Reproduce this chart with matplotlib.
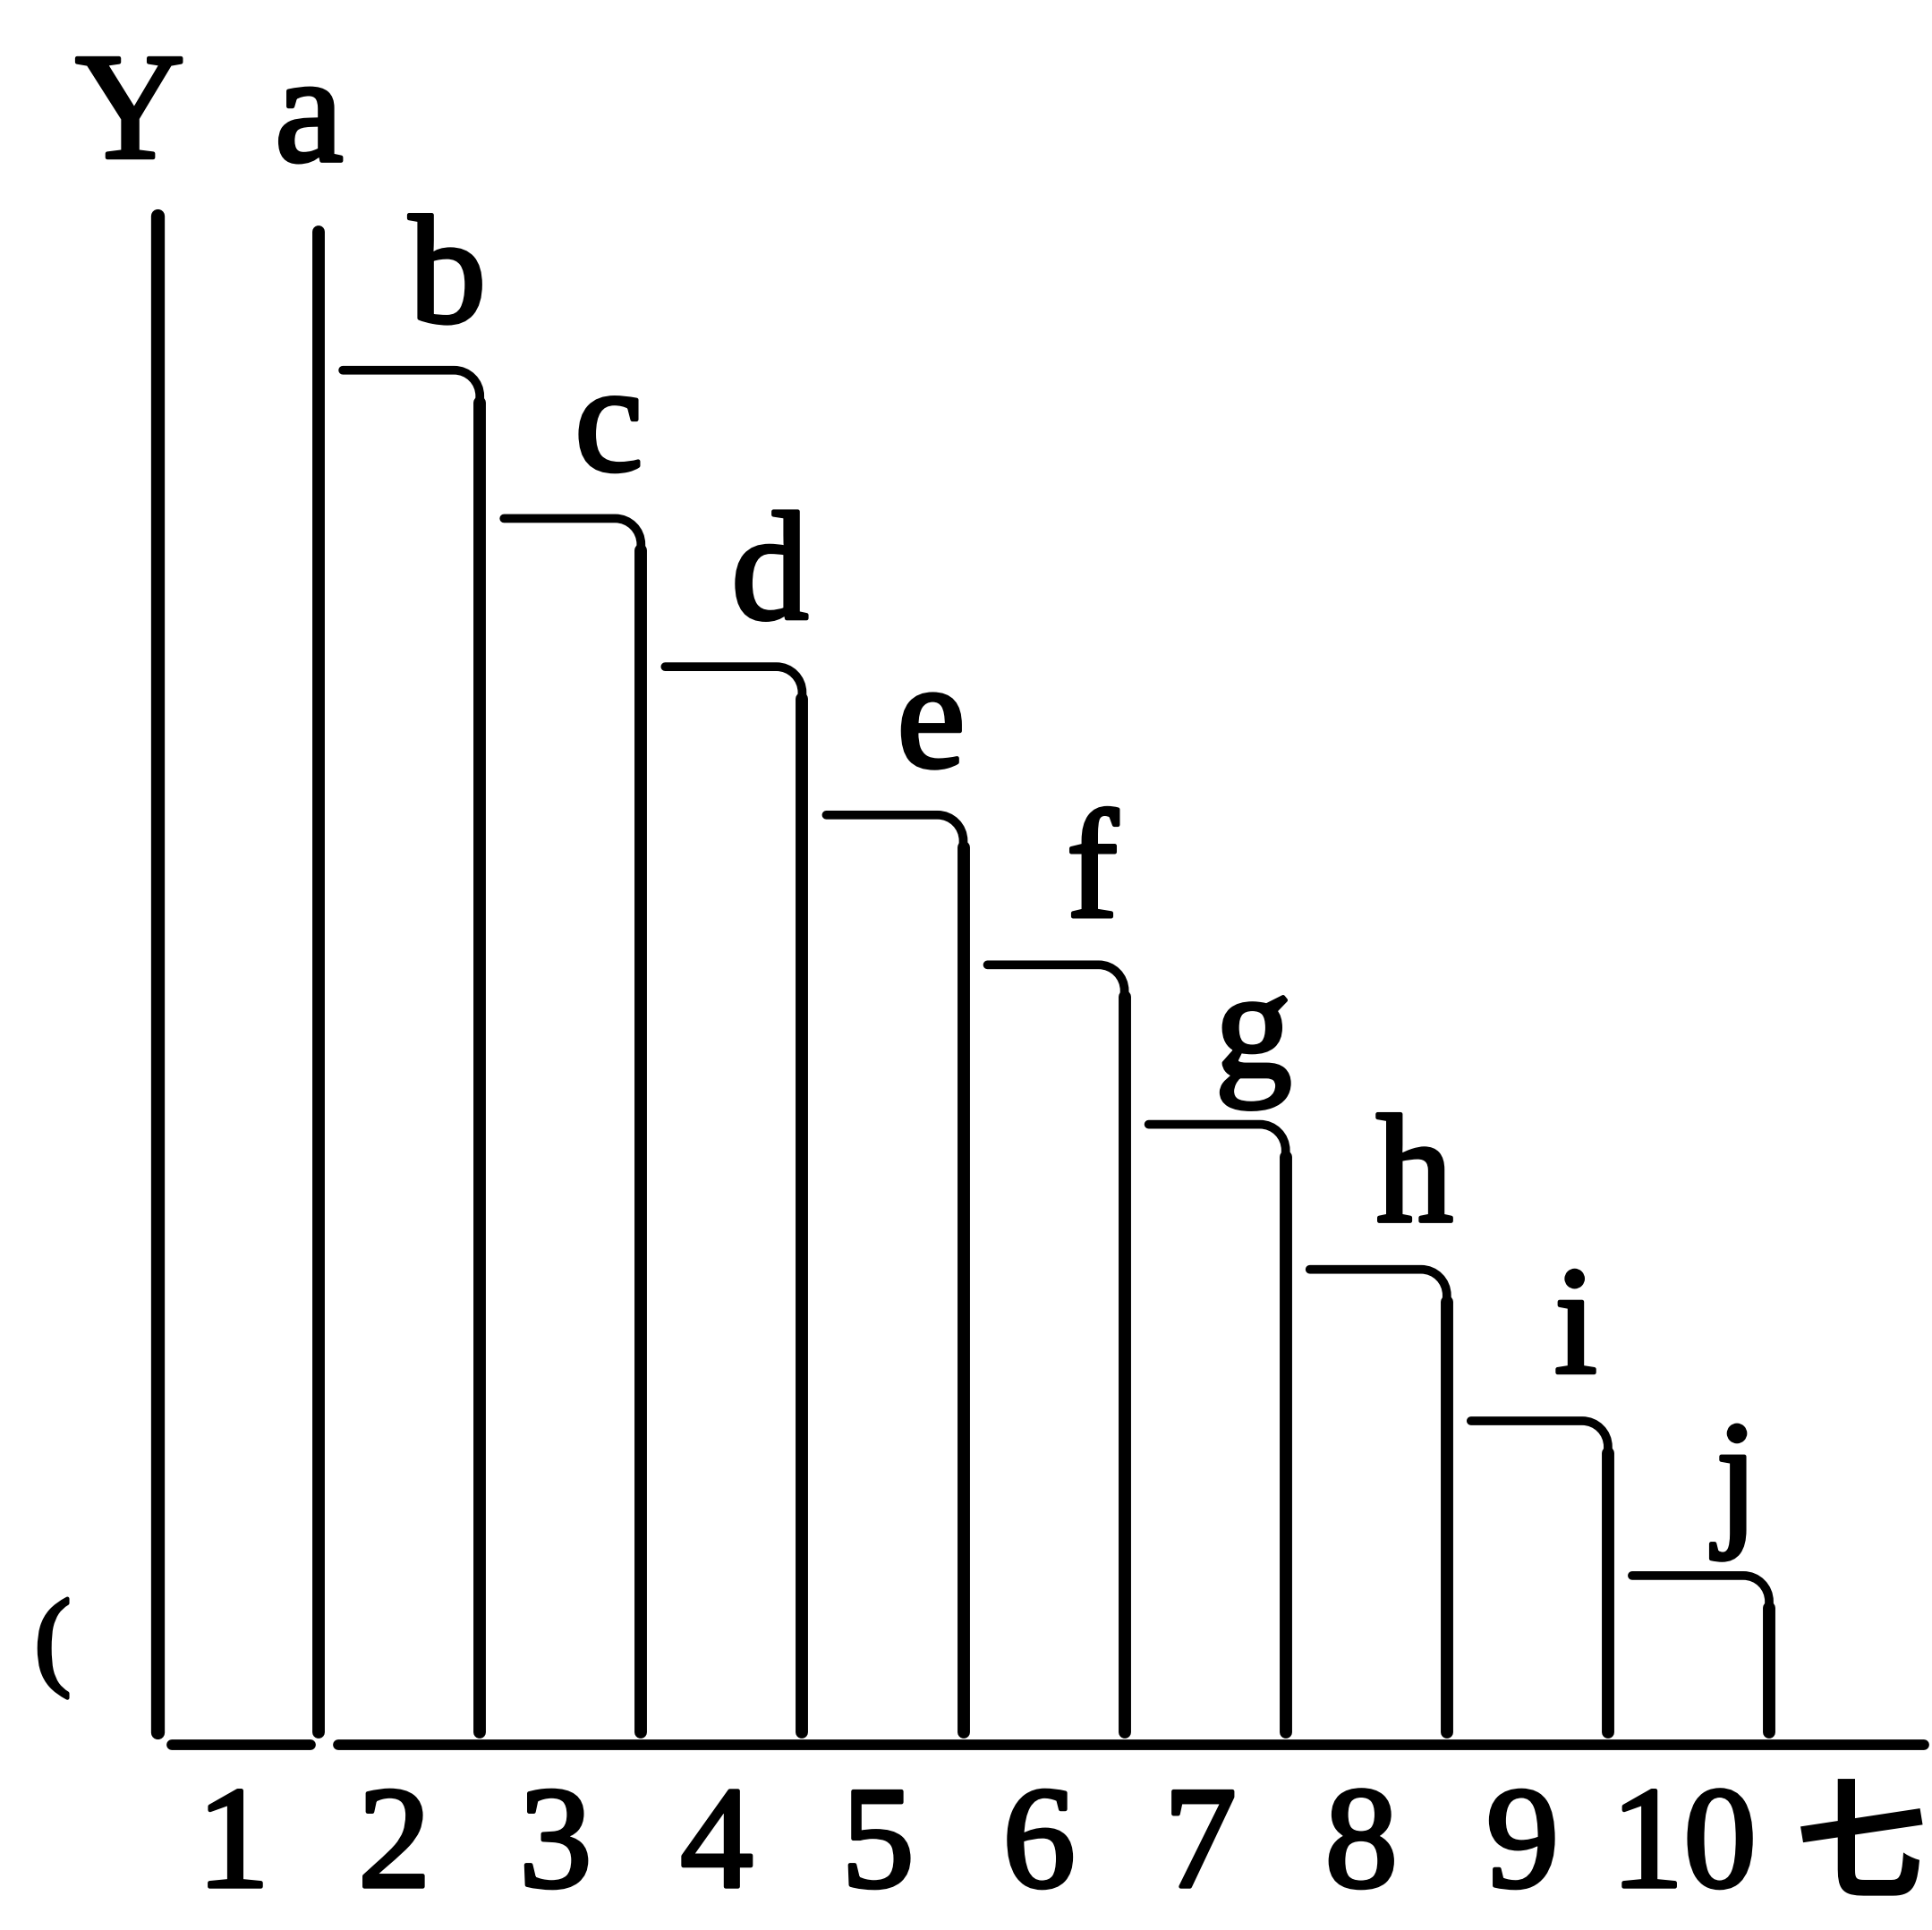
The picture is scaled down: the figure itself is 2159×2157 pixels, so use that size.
import matplotlib
matplotlib.use("Agg")
import matplotlib.pyplot as plt
from matplotlib.path import Path
from matplotlib.patches import PathPatch
import matplotlib.patheffects as pe

# ---- data (units: one column width) ----
column_labels = ["1", "2", "3", "4", "5", "6", "7", "8", "9", "10"]
step_letters = ["a", "b", "c", "d", "e", "f", "g", "h", "i", "j"]
step_heights = [9.39, 8.53, 7.61, 6.69, 5.77, 4.84, 3.85, 2.95, 2.01, 1.05]
y_axis_height = 9.49
axis_letter = "Y"
unit_letter = "七"
baseline_end = 10.96

# ---- figure geometry ----
W, H, DPI = 2159, 2157, 100
PX = 180.1          # pixels per data unit
X0, Y0 = 176, 1950  # pixel position of the origin

fig = plt.figure(figsize=(W / DPI, H / DPI), dpi=DPI)
ax = fig.add_axes([0, 0, 1, 1])
ax.set_xlim(-X0 / PX, (W - X0) / PX)
ax.set_ylim(-(H - Y0) / PX, Y0 / PX)
ax.axis("off")

ink = "black"
serif = ["Liberation Serif", "DejaVu Serif"]
heavy = [pe.withStroke(linewidth=3.2, foreground=ink)]
lw_axis, lw_vert, lw_top, lw_base = 11.0, 10.0, 7.0, 8.5
gap_bottom = 0.08
gap_left = 0.15
r = 0.16
kappa = 0.5523

# Y axis line and line a
ax.plot([0, 0], [gap_bottom, y_axis_height], color=ink, lw=lw_axis,
        solid_capstyle="round")
ax.plot([1, 1], [gap_bottom, step_heights[0]], color=ink, lw=lw_vert,
        solid_capstyle="round")

# baseline (broken under line a)
ax.plot([0.09, 0.95], [0, 0], color=ink, lw=lw_base, solid_capstyle="round")
ax.plot([1.12, baseline_end], [0, 0], color=ink, lw=lw_base,
        solid_capstyle="round")

# steps b..j : top edge with rounded corner running into the vertical
for k in range(2, len(step_heights) + 1):
    h = step_heights[k - 1]
    x_left = (k - 1) + gap_left
    verts = [(x_left, h), (k - r, h),
             (k - r + kappa * r, h), (k, h - r + kappa * r), (k, h - r),
             (k, h - r - 0.1)]
    codes = [Path.MOVETO, Path.LINETO,
             Path.CURVE4, Path.CURVE4, Path.CURVE4, Path.LINETO]
    ax.add_patch(PathPatch(Path(verts, codes), fill=False, edgecolor=ink,
                           lw=lw_top, capstyle="round", joinstyle="round"))
    ax.plot([k, k], [h - r - 0.04, gap_bottom], color=ink, lw=lw_vert,
            solid_capstyle="round")

# letters at the tops (line a has no step, so its letter sits over the line)
for k, (lab, h) in enumerate(zip(step_letters, step_heights), start=1):
    dx, dy = (-0.06, 0.44) if k == 1 else (-0.2, 0.3)
    ax.text(k + dx, h + dy, lab, family=serif, fontsize=124,
            ha="center", va="baseline", color=ink, path_effects=heavy)

# axis letter Y
ax.text(-0.17, y_axis_height + 0.36, axis_letter, family=serif, fontsize=122,
        ha="center", va="baseline", color=ink, path_effects=heavy)

# column numbers
for k, lab in enumerate(column_labels, start=1):
    ax.text(k - 0.53, -0.88, lab, family=serif, fontsize=117,
            ha="center", va="baseline", color=ink, path_effects=heavy)

# trailing character and the stray bracket at left
ax.text(10.57, -0.65, unit_letter,
        family=["Noto Sans CJK SC", "DejaVu Sans"], fontweight="bold",
        fontsize=106, ha="center", va="center", color=ink)
ax.text(-0.65, 0.6, "(", family=serif, fontsize=88, ha="center",
        va="center", color=ink, path_effects=heavy)

fig.savefig("out.png", dpi=DPI, facecolor="white")
